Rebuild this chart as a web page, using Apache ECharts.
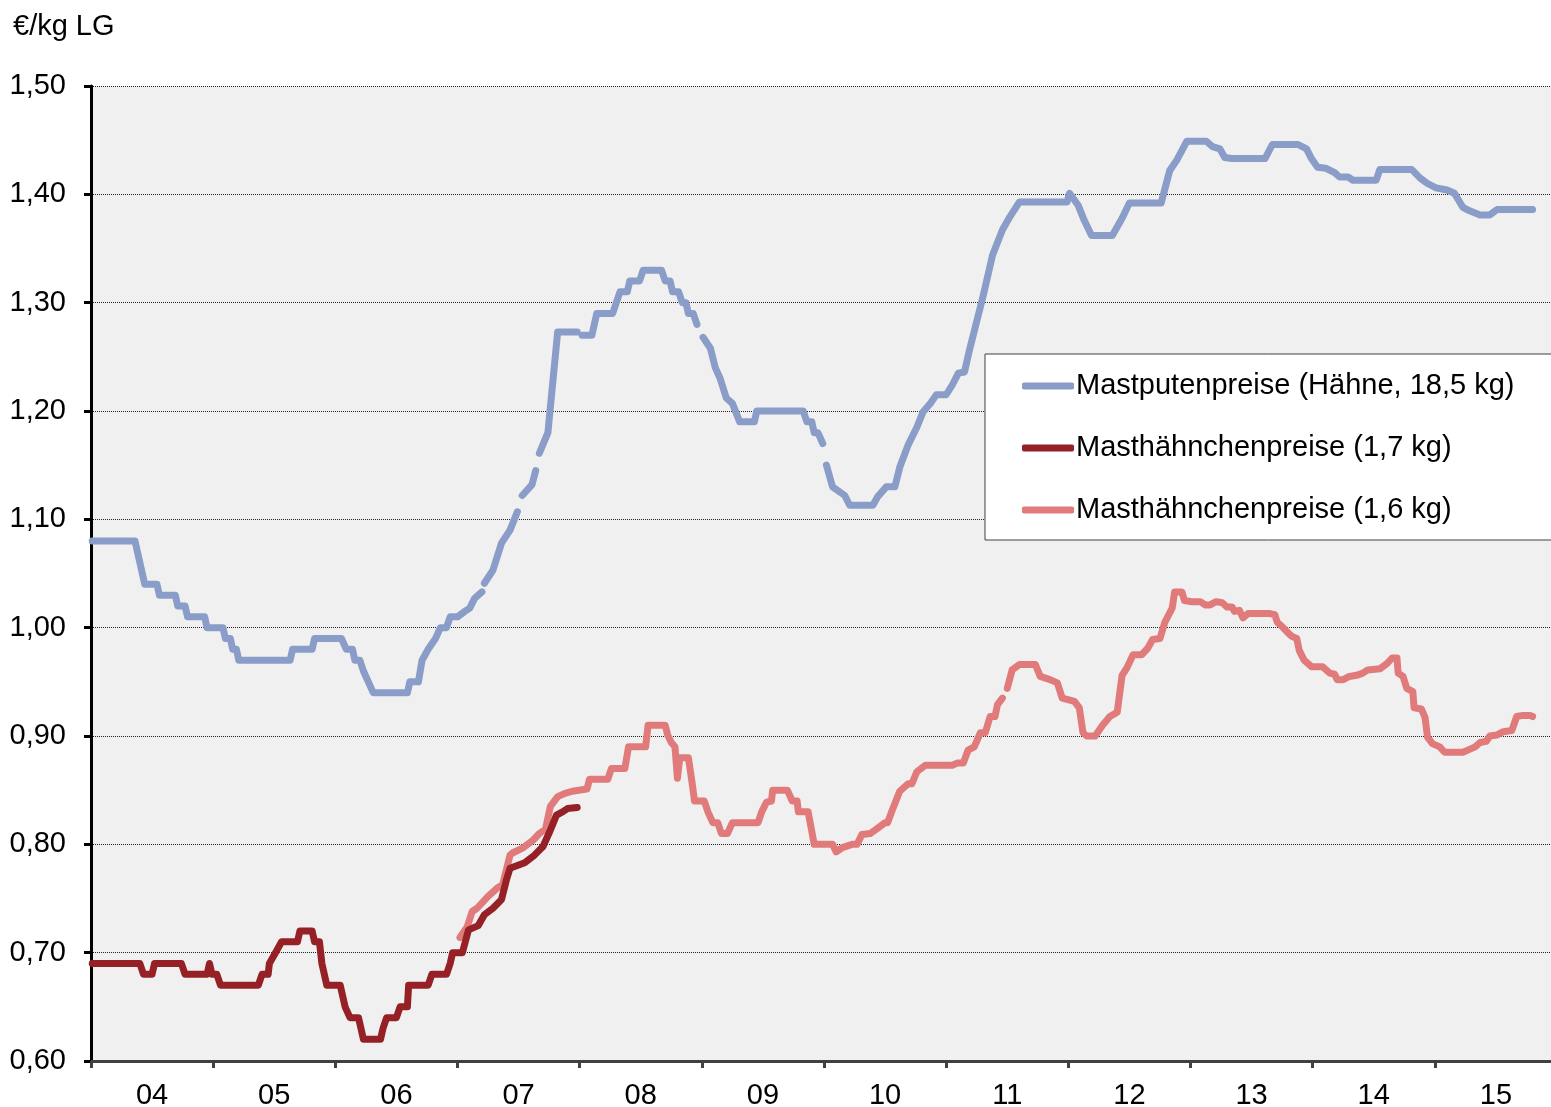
<!DOCTYPE html>
<html>
<head>
<meta charset="utf-8">
<title>Mastputen- und Masthähnchenpreise</title>
<script src="https://cdn.jsdelivr.net/npm/echarts@6/dist/echarts.min.js"></script>
<style>
  html, body { margin: 0; padding: 0; background: #ffffff; }
  #priceChart { width: 1551px; height: 1107px; }
</style>
</head>
<body>
<div id="priceChart"></div>
<script>
// Zeitachse in Dezimaljahren, Preise in €/kg LG (null = Lücke in der Reihe)
const yearTicks = [2004, 2005, 2006, 2007, 2008, 2009, 2010, 2011, 2012, 2013, 2014, 2015, 2016];
const yearLabels = ['04', '05', '06', '07', '08', '09', '10', '11', '12', '13', '14', '15'];

const putenTime = [
  2004.01, 2004.36, 2004.44, 2004.54, 2004.56, 2004.69, 2004.71, 2004.77, 2004.79, 2004.93,
  2004.95, 2005.08, 2005.10, 2005.14, 2005.16, 2005.19, 2005.21, 2005.63, 2005.65, 2005.81,
  2005.83, 2006.05, 2006.09, 2006.14, 2006.16, 2006.20, 2006.23, 2006.27, 2006.31, 2006.59,
  2006.61, 2006.68, 2006.71, 2006.76, 2006.82, 2006.86, 2006.91, 2006.94, 2007.00, 2007.06,
  2007.10, 2007.14, 2007.20, 2007.21, 2007.22, 2007.29, 2007.36, 2007.43, 2007.49, 2007.50,
  2007.53, 2007.61, 2007.64, 2007.65, 2007.67, 2007.74, 2007.82, 2007.98, 2007.99, 2008.02,
  2008.10, 2008.12, 2008.14, 2008.27, 2008.30, 2008.33, 2008.39, 2008.41, 2008.49, 2008.52,
  2008.67, 2008.70, 2008.74, 2008.76, 2008.81, 2008.84, 2008.87, 2008.89, 2008.93, 2008.96,
  2008.98, 2009.01, 2009.07, 2009.11, 2009.15, 2009.20, 2009.25, 2009.31, 2009.43, 2009.45,
  2009.83, 2009.86, 2009.90, 2009.92, 2009.95, 2009.99, 2010.01, 2010.02, 2010.07, 2010.17,
  2010.21, 2010.40, 2010.44, 2010.51, 2010.58, 2010.62, 2010.69, 2010.76, 2010.81, 2010.87,
  2010.92, 2011.00, 2011.05, 2011.10, 2011.15, 2011.19, 2011.30, 2011.38, 2011.46, 2011.52,
  2011.60, 2011.99, 2012.01, 2012.08, 2012.13, 2012.19, 2012.36, 2012.44, 2012.50, 2012.76,
  2012.83, 2012.89, 2012.97, 2013.13, 2013.18, 2013.24, 2013.28, 2013.34, 2013.61, 2013.67,
  2013.88, 2013.95, 2013.99, 2014.04, 2014.11, 2014.18, 2014.22, 2014.29, 2014.33, 2014.52,
  2014.55, 2014.81, 2014.88, 2014.94, 2015.01, 2015.10, 2015.16, 2015.23, 2015.28, 2015.37,
  2015.45, 2015.51, 2015.80
];
const putenPrice = [
  1.08, 1.08, 1.04, 1.04, 1.03, 1.03, 1.02, 1.02, 1.01, 1.01,
  1.00, 1.00, 0.99, 0.99, 0.98, 0.98, 0.97, 0.97, 0.98, 0.98,
  0.99, 0.99, 0.98, 0.98, 0.97, 0.97, 0.96, 0.95, 0.94, 0.94,
  0.95, 0.95, 0.97, 0.98, 0.99, 1.00, 1.00, 1.01, 1.01, 1.015,
  1.018, 1.027, 1.033, null, 1.041, 1.053, 1.078, 1.09, 1.107, null,
  1.122, 1.132, 1.145, null, 1.161, 1.18, 1.273, 1.273, null, 1.27,
  1.27, 1.28, 1.29, 1.29, 1.30, 1.31, 1.31, 1.32, 1.32, 1.33,
  1.33, 1.32, 1.32, 1.31, 1.31, 1.30, 1.30, 1.29, 1.29, 1.28,
  null, 1.268, 1.258, 1.24, 1.23, 1.212, 1.207, 1.19, 1.19, 1.20,
  1.20, 1.19, 1.19, 1.18, 1.18, 1.17, null, 1.15, 1.13, 1.122,
  1.113, 1.113, 1.121, 1.13, 1.13, 1.148, 1.169, 1.185, 1.199, 1.207,
  1.215, 1.215, 1.224, 1.235, 1.236, 1.256, 1.305, 1.344, 1.367, 1.379,
  1.393, 1.393, 1.401, 1.39, 1.376, 1.362, 1.362, 1.378, 1.392, 1.392,
  1.422, 1.432, 1.449, 1.449, 1.444, 1.442, 1.434, 1.433, 1.433, 1.446,
  1.446, 1.442, 1.433, 1.425, 1.424, 1.42, 1.416, 1.416, 1.413, 1.413,
  1.423, 1.423, 1.415, 1.41, 1.406, 1.404, 1.401, 1.388, 1.385, 1.381,
  1.381, 1.386, 1.386
];

const haehnchen17Time = [
  2004.01, 2004.40, 2004.43, 2004.50, 2004.52, 2004.74, 2004.77, 2004.95, 2004.97, 2004.99,
  2005.03, 2005.06, 2005.37, 2005.40, 2005.45, 2005.46, 2005.51, 2005.56, 2005.69, 2005.71,
  2005.81, 2005.83, 2005.87, 2005.89, 2005.93, 2006.04, 2006.08, 2006.12, 2006.19, 2006.23,
  2006.37, 2006.39, 2006.42, 2006.50, 2006.53, 2006.59, 2006.60, 2006.76, 2006.79, 2006.91,
  2006.94, 2006.96, 2007.04, 2007.09, 2007.17, 2007.22, 2007.29, 2007.36, 2007.40, 2007.43,
  2007.55, 2007.63, 2007.70, 2007.76, 2007.81, 2007.86, 2007.90, 2007.98
];
const haehnchen17Price = [
  0.69, 0.69, 0.68, 0.68, 0.69, 0.69, 0.68, 0.68, 0.69, 0.68,
  0.68, 0.67, 0.67, 0.68, 0.68, 0.69, 0.70, 0.71, 0.71, 0.72,
  0.72, 0.71, 0.71, 0.69, 0.67, 0.67, 0.65, 0.64, 0.64, 0.62,
  0.62, 0.63, 0.64, 0.64, 0.65, 0.65, 0.67, 0.67, 0.68, 0.68,
  0.69, 0.70, 0.70, 0.721, 0.725, 0.735, 0.741, 0.749, 0.767, 0.778,
  0.783, 0.79, 0.798, 0.813, 0.827, 0.83, 0.833, 0.834
];

const haehnchen16Time = [
  2007.02, 2007.08, 2007.12, 2007.16, 2007.25, 2007.33, 2007.37, 2007.43, 2007.45, 2007.54,
  2007.62, 2007.67, 2007.72, 2007.76, 2007.82, 2007.88, 2007.94, 2008.06, 2008.08, 2008.23,
  2008.26, 2008.37, 2008.40, 2008.54, 2008.56, 2008.70, 2008.72, 2008.75, 2008.78, 2008.80,
  2008.82, 2008.89, 2008.92, 2008.94, 2009.02, 2009.05, 2009.09, 2009.13, 2009.16, 2009.21,
  2009.25, 2009.46, 2009.49, 2009.53, 2009.57, 2009.58, 2009.70, 2009.74, 2009.78, 2009.79,
  2009.87, 2009.92, 2010.07, 2010.10, 2010.15, 2010.23, 2010.27, 2010.31, 2010.38, 2010.44,
  2010.50, 2010.52, 2010.56, 2010.62, 2010.69, 2010.72, 2010.76, 2010.83, 2011.05, 2011.09,
  2011.14, 2011.18, 2011.23, 2011.28, 2011.32, 2011.36, 2011.40, 2011.42, 2011.46, 2011.47,
  2011.50, 2011.54, 2011.60, 2011.73, 2011.77, 2011.85, 2011.91, 2011.95, 2012.05, 2012.09,
  2012.12, 2012.15, 2012.22, 2012.28, 2012.34, 2012.40, 2012.44, 2012.48, 2012.53, 2012.60,
  2012.65, 2012.69, 2012.75, 2012.79, 2012.85, 2012.87, 2012.93, 2012.95, 2013.01, 2013.08,
  2013.12, 2013.16, 2013.21, 2013.26, 2013.30, 2013.34, 2013.36, 2013.40, 2013.43, 2013.47,
  2013.65, 2013.69, 2013.71, 2013.75, 2013.80, 2013.83, 2013.87, 2013.89, 2013.93, 2013.99,
  2014.08, 2014.14, 2014.18, 2014.20, 2014.25, 2014.30, 2014.36, 2014.41, 2014.45, 2014.55,
  2014.61, 2014.65, 2014.69, 2014.70, 2014.74, 2014.77, 2014.82, 2014.83, 2014.89, 2014.92,
  2014.94, 2014.98, 2015.04, 2015.08, 2015.23, 2015.27, 2015.33, 2015.37, 2015.42, 2015.45,
  2015.51, 2015.56, 2015.63, 2015.67, 2015.72, 2015.78, 2015.80
];
const haehnchen16Price = [
  0.714, 0.724, 0.738, 0.741, 0.752, 0.76, 0.763, 0.79, 0.792, 0.797,
  0.804, 0.81, 0.814, 0.835, 0.844, 0.847, 0.849, 0.851, 0.86, 0.86,
  0.87, 0.87, 0.89, 0.89, 0.91, 0.91, 0.901, 0.894, 0.89, 0.861,
  0.88, 0.88, 0.857, 0.84, 0.84, 0.83, 0.82, 0.82, 0.81, 0.81,
  0.82, 0.82, 0.83, 0.839, 0.84, 0.85, 0.85, 0.84, 0.84, 0.83,
  0.83, 0.80, 0.80, 0.793, 0.797, 0.80, 0.80, 0.809, 0.81, 0.815,
  0.82, 0.82, 0.832, 0.849, 0.856, 0.856, 0.867, 0.873, 0.873, 0.875,
  0.875, 0.887, 0.89, 0.903, 0.903, 0.918, 0.918, 0.929, 0.935, null,
  0.944, 0.961, 0.966, 0.966, 0.955, 0.952, 0.949, 0.935, 0.932, 0.926,
  0.903, 0.90, 0.90, 0.91, 0.918, 0.922, 0.956, 0.963, 0.975, 0.975,
  0.981, 0.989, 0.99, 1.005, 1.018, 1.033, 1.033, 1.025, 1.024, 1.024,
  1.021, 1.021, 1.024, 1.023, 1.019, 1.019, 1.015, 1.016, 1.009, 1.013,
  1.013, 1.012, 1.005, 1.001, 0.995, 0.992, 0.99, 0.979, 0.97, 0.964,
  0.964, 0.958, 0.957, 0.952, 0.952, 0.955, 0.956, 0.958, 0.961, 0.962,
  0.967, 0.972, 0.972, 0.958, 0.955, 0.944, 0.941, 0.926, 0.925, 0.917,
  0.899, 0.893, 0.89, 0.885, 0.885, 0.887, 0.89, 0.894, 0.895, 0.90,
  0.901, 0.904, 0.905, 0.918, 0.919, 0.919, 0.918
];

const seriesNames = [
  'Mastputenpreise (Hähne, 18,5 kg)',
  'Masthähnchenpreise (1,7 kg)',
  'Masthähnchenpreise (1,6 kg)'
];
const seriesColors = ['#8a9cc8', '#952126', '#e17b7b'];

const fontFamily = '"Liberation Sans", Arial, sans-serif';

function toPairs(times, prices) {
  return times.map((t, i) => [t, prices[i]]);
}

function lineSeries(idx, data, z) {
  return {
    name: seriesNames[idx],
    type: 'line',
    data: data,
    symbol: 'none',
    connectNulls: false,
    z: z,
    lineStyle: { color: seriesColors[idx], width: 7, cap: 'round', join: 'round' },
    itemStyle: { color: seriesColors[idx] }
  };
}

const chart = echarts.init(document.getElementById('priceChart'));

const option = {
  backgroundColor: '#ffffff',
  animation: false,
  textStyle: { fontFamily: fontFamily },
  title: {
    text: '€/kg LG',
    left: 8,
    top: 7,
    textStyle: { fontSize: 29, fontWeight: 'normal', color: '#000', fontFamily: fontFamily }
  },
  legend: {
    orient: 'vertical',
    left: 985,
    top: 354,
    backgroundColor: '#ffffff',
    borderColor: '#404040',
    borderWidth: 1,
    borderRadius: 0,
    padding: [16, 60, 14, 37],
    itemGap: 30,
    itemWidth: 52,
    itemHeight: 7,
    icon: 'roundRect',
    textStyle: { fontSize: 29, lineHeight: 32, color: '#000', fontFamily: fontFamily, padding: [0, 0, 0, -3] },
    data: seriesNames
  },
  grid: {
    left: 91,
    right: -6,
    top: 86,
    bottom: 46,
    outerBoundsMode: 'none',
    show: true,
    backgroundColor: '#f0f0f0',
    borderWidth: 0
  },
  xAxis: {
    type: 'value',
    min: 2004,
    max: 2016,
    interval: 1,
    axisLine: { lineStyle: { color: '#404040', width: 3 } },
    axisTick: {
      show: true,
      length: 7,
      customValues: yearTicks,
      lineStyle: { color: '#404040', width: 3 }
    },
    axisLabel: {
      customValues: yearTicks.slice(0, -1).map(y => y + 0.5),
      formatter: v => yearLabels[Math.floor(v) - 2004],
      margin: 20,
      fontSize: 29,
      color: '#000',
      fontFamily: fontFamily
    },
    splitLine: { show: false }
  },
  yAxis: {
    type: 'value',
    min: 0.6,
    max: 1.5,
    interval: 0.1,
    axisLine: { show: true, lineStyle: { color: '#000', width: 3 } },
    axisTick: { show: true, length: 7, lineStyle: { color: '#000', width: 3 } },
    axisLabel: {
      formatter: v => v.toFixed(2).replace('.', ','),
      margin: 25,
      fontSize: 29,
      color: '#000',
      fontFamily: fontFamily
    },
    splitLine: { show: true, lineStyle: { color: '#222', width: 1, type: [1, 1] } }
  },
  series: [
    lineSeries(0, toPairs(putenTime, putenPrice), 2),
    lineSeries(1, toPairs(haehnchen17Time, haehnchen17Price), 4),
    lineSeries(2, toPairs(haehnchen16Time, haehnchen16Price), 3)
  ]
};

chart.setOption(option);
</script>
</body>
</html>
